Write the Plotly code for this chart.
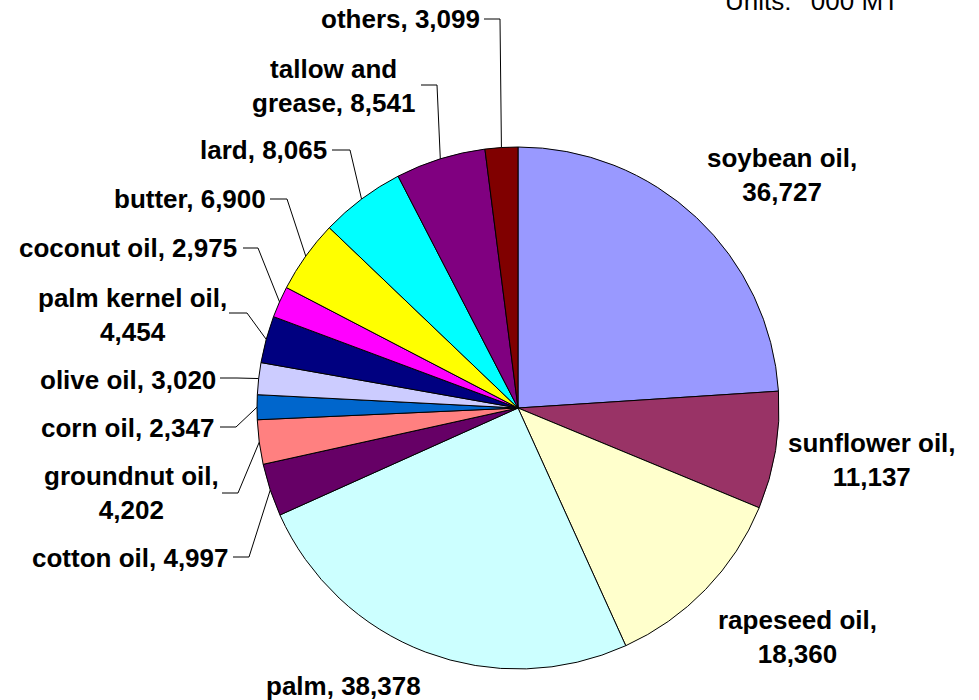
import math
import plotly.graph_objects as go

# world oils & fats production, '000 MT
categories = ["soybean oil", "sunflower oil", "rapeseed oil", "palm", "cotton oil",
              "groundnut oil", "corn oil", "olive oil", "palm kernel oil",
              "coconut oil", "butter", "lard", "tallow and grease", "others"]
values = [36727, 11137, 18360, 38378, 4997, 4202, 2347, 3020, 4454,
          2975, 6900, 8065, 8541, 3099]
colors = ["#9999FF", "#993366", "#FFFFCC", "#CCFFFF", "#660066", "#FF8080",
          "#0066CC", "#CCCCFF", "#000080", "#FF00FF", "#FFFF00", "#00FFFF",
          "#800080", "#800000"]

W, H = 979, 700
CX, CY, R = 518, 408, 261
FONT = "Arial, Liberation Sans, sans-serif"

# label layout in pixels: (x, y, xanchor, line break text, leader start x, elbow x, leader y)
label_layout = {
    "soybean oil": (782, 175, "center", "soybean oil,<br>", None, None, None),
    "sunflower oil": (872, 460, "center", "sunflower oil,<br>", None, None, None),
    "rapeseed oil": (797, 637, "center", "rapeseed oil,<br>", None, None, None),
    "palm": (343, 686, "center", "palm, ", None, None, None),
    "cotton oil": (231, 558, "right", "cotton oil, ", 233, 249, 557),
    "groundnut oil": (131, 493, "center", "groundnut oil,<br>", 222, 238, 493),
    "corn oil": (216, 428, "right", "corn oil, ", 220, 236, 427),
    "olive oil": (218, 380, "right", "olive oil, ", 220, 237, 378),
    "palm kernel oil": (132, 315, "center", "palm kernel oil,<br>", 229, 247, 313),
    "coconut oil": (239, 248, "right", "coconut oil, ", 243, 258, 248),
    "butter": (268, 199, "right", "butter, ", 270, 287, 199),
    "lard": (329, 150, "right", "lard, ", 332, 350, 150),
    "tallow and grease": (333, 86, "center", "tallow and<br>grease, ", 421, 437, 85),
    "others": (482, 19, "right", "others, ", 484, 500, 19),
}


def px(x):
    return x / W


def py(y):
    return 1 - y / H


fig = go.Figure(go.Pie(
    labels=categories,
    values=values,
    sort=False,
    direction="clockwise",
    rotation=0,
    textinfo="none",
    hoverinfo="label+value",
    marker=dict(colors=colors, line=dict(color="black", width=1)),
    domain=dict(x=[px(CX - R), px(CX + R)], y=[py(CY + R), py(CY - R)]),
    showlegend=False,
))

total = sum(values)
cum = 0
annotations = []
shapes = []
for name, val in zip(categories, values):
    mid = (cum + val / 2) / total * 2 * math.pi
    cum += val
    x, y, anchor, prefix, lx, ex, ly = label_layout[name]
    annotations.append(dict(
        x=px(x), y=py(y), xref="paper", yref="paper",
        xanchor=anchor, yanchor="middle", align="center",
        text=f"<b>{prefix}{val:,}</b>", showarrow=False,
        font=dict(family=FONT, size=26, color="black"),
    ))
    if lx is not None:
        # leader line: short horizontal tick, then down to the slice's mid-arc
        ax = CX + R * math.sin(mid)
        ay = CY - R * math.cos(mid)
        shapes.append(dict(
            type="path", xref="paper", yref="paper",
            path=f"M {px(lx)} {py(ly)} L {px(ex)} {py(ly)} L {px(ax)} {py(ay)}",
            line=dict(color="black", width=1),
        ))

annotations.append(dict(
    x=px(723), y=py(1), xref="paper", yref="paper",
    xanchor="left", yanchor="middle", showarrow=False,
    text="Units:  '000 MT", font=dict(family=FONT, size=26, color="black"),
))

fig.update_layout(
    width=W, height=H,
    margin=dict(l=0, r=0, t=0, b=0),
    paper_bgcolor="white", plot_bgcolor="white",
    annotations=annotations, shapes=shapes,
)

# drop the browser's default body margin so the figure sits at the page corner
fig.write_html("out.html", config={"displayModeBar": False},
               post_script="document.body.style.margin='0px';")
